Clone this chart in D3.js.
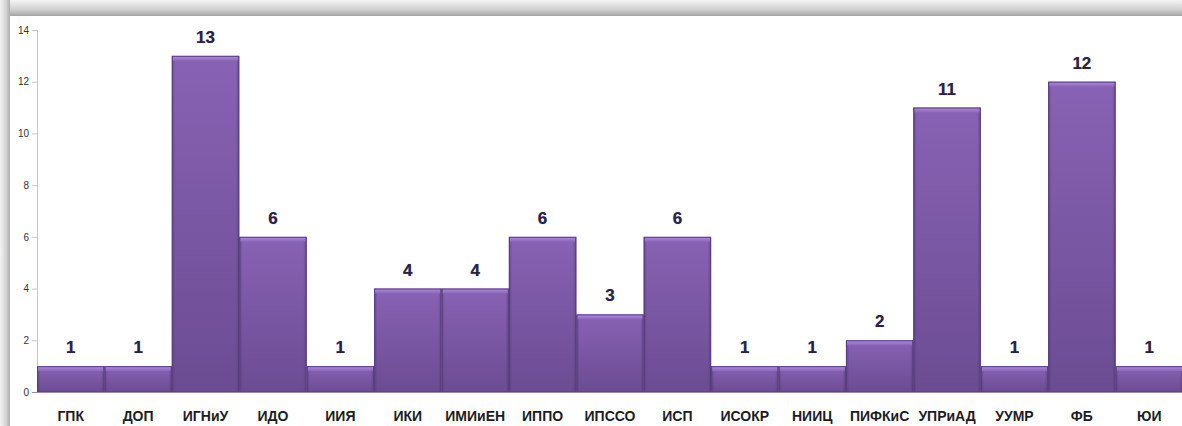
<!DOCTYPE html>
<html><head><meta charset="utf-8">
<script src="https://cdn.jsdelivr.net/npm/d3@7"></script>
<style>
html,body{margin:0;padding:0;background:#fff;overflow:hidden}
svg{display:block}
</style></head>
<body>
<svg id="c" width="1182" height="426"></svg>
<script>
const categories = ["ГПК","ДОП","ИГНиУ","ИДО","ИИЯ","ИКИ","ИМИиЕН","ИППО","ИПССО","ИСП","ИСОКР","НИИЦ","ПИФКиС","УПРиАД","УУМР","ФБ","ЮИ"];
const values = [1,1,13,6,1,4,4,6,3,6,1,1,2,11,1,12,1];
const yTicks = [0,2,4,6,8,10,12,14];

const W = 1182, H = 426;
const svg = d3.select("#c");
const defs = svg.append("defs");

// frame shadow gradients
const gTop = defs.append("linearGradient").attr("id","gTop").attr("x1",0).attr("y1",0).attr("x2",0).attr("y2",1);
gTop.append("stop").attr("offset","0%").attr("stop-color","#f4f4f4");
gTop.append("stop").attr("offset","60%").attr("stop-color","#d0d0d0");
gTop.append("stop").attr("offset","100%").attr("stop-color","#a4a4a4");
const gLeft = defs.append("linearGradient").attr("id","gLeft").attr("x1",0).attr("y1",0).attr("x2",1).attr("y2",0);
gLeft.append("stop").attr("offset","0%").attr("stop-color","#f4f4f4");
gLeft.append("stop").attr("offset","60%").attr("stop-color","#d4d4d4");
gLeft.append("stop").attr("offset","100%").attr("stop-color","#acacac");

svg.append("rect").attr("x",0).attr("y",0).attr("width",W).attr("height",16).attr("fill","url(#gTop)");
svg.append("rect").attr("x",0).attr("y",0).attr("width",10).attr("height",H).attr("fill","url(#gLeft)");
svg.append("rect").attr("x",10).attr("y",16).attr("width",W-10).attr("height",H-16).attr("fill","#fff");

// bar gradient
const gBar = defs.append("linearGradient").attr("id","gBar").attr("x1",0).attr("y1",0).attr("x2",0).attr("y2",1);
gBar.append("stop").attr("offset","0%").attr("stop-color","#8862b4");
gBar.append("stop").attr("offset","100%").attr("stop-color","#6b4c92");
const gBev = defs.append("linearGradient").attr("id","gBev").attr("x1",0).attr("y1",0).attr("x2",0).attr("y2",1);
gBev.append("stop").attr("offset","0%").attr("stop-color","#b08ee0");
gBev.append("stop").attr("offset","100%").attr("stop-color","#8a66b8");
const gSide = defs.append("linearGradient").attr("id","gSide").attr("x1",0).attr("y1",0).attr("x2",1).attr("y2",0);
gSide.append("stop").attr("offset","0%").attr("stop-color","#4e3570").attr("stop-opacity",0.55);
gSide.append("stop").attr("offset","5%").attr("stop-color","#4e3570").attr("stop-opacity",0);
gSide.append("stop").attr("offset","95%").attr("stop-color","#4e3570").attr("stop-opacity",0);
gSide.append("stop").attr("offset","100%").attr("stop-color","#4e3570").attr("stop-opacity",0.55);

const x0 = 37, x1 = 1183, yBase = 392, yTop = 30;
const x = d3.scaleBand().domain(categories).range([x0, x1]).padding(0);
const y = d3.scaleLinear().domain([0,14]).range([yBase, yTop]);

// y axis
const yAxis = d3.axisLeft(y).tickValues(yTicks).tickSize(5).tickPadding(3).tickFormat(d3.format("d"));
const ga = svg.append("g").attr("transform",`translate(${x0},0)`).call(yAxis);
ga.select(".domain").attr("stroke","#c8c8c8");
ga.selectAll(".tick line").attr("stroke","#c8c8c8");
ga.selectAll(".tick text").attr("fill","#333").style("font-family","'Liberation Sans Narrow','Liberation Sans',Arial,sans-serif").style("font-size","10px");

// bars
const data = categories.map((c,i)=>({c, v: values[i]}));
const bars = svg.append("g").selectAll("g").data(data).join("g");
bars.append("rect")
  .attr("x", d=>x(d.c)).attr("y", d=>y(d.v))
  .attr("width", x.bandwidth()).attr("height", d=>yBase - y(d.v))
  .attr("fill","url(#gBar)");
bars.append("rect")
  .attr("x", d=>x(d.c)).attr("y", d=>y(d.v))
  .attr("width", x.bandwidth()).attr("height", d=>yBase - y(d.v))
  .attr("fill","url(#gSide)");
bars.append("rect")
  .attr("x", d=>x(d.c)+1).attr("y", d=>y(d.v))
  .attr("width", x.bandwidth()-2).attr("height", 5)
  .attr("fill","url(#gBev)");
bars.append("rect")
  .attr("x", d=>x(d.c)+0.5).attr("y", d=>y(d.v)+0.5)
  .attr("width", x.bandwidth()-1).attr("height", d=>yBase - y(d.v)-0.5)
  .attr("fill","none").attr("stroke","#5a3e80").attr("stroke-width",1);

// baseline
svg.append("line").attr("x1",x0-5).attr("x2",x1).attr("y1",yBase+0.5).attr("y2",yBase+0.5).attr("stroke","#9a8aa8");

// value labels
svg.append("g").selectAll("text").data(data).join("text")
  .attr("x", d=>x(d.c)+x.bandwidth()/2)
  .attr("y", d=>y(d.v)-13)
  .attr("text-anchor","middle")
  .attr("fill","#2a2340")
  .style("font-family","'Liberation Sans Narrow','Liberation Sans',Arial,sans-serif")
  .style("font-weight","bold").style("font-size","17px")
  .style("text-shadow","0 0 1px #8a86b0")
  .text(d=>d.v);

// category labels
svg.append("g").selectAll("text").data(data).join("text")
  .attr("x", d=>x(d.c)+x.bandwidth()/2)
  .attr("y", 421)
  .attr("text-anchor","middle")
  .attr("fill","#1c1c24")
  .style("font-family","'Liberation Sans Narrow','Liberation Sans',Arial,sans-serif")
  .style("font-weight","bold").style("font-size","14px")
  .text(d=>d.c);
</script>
</body></html>
